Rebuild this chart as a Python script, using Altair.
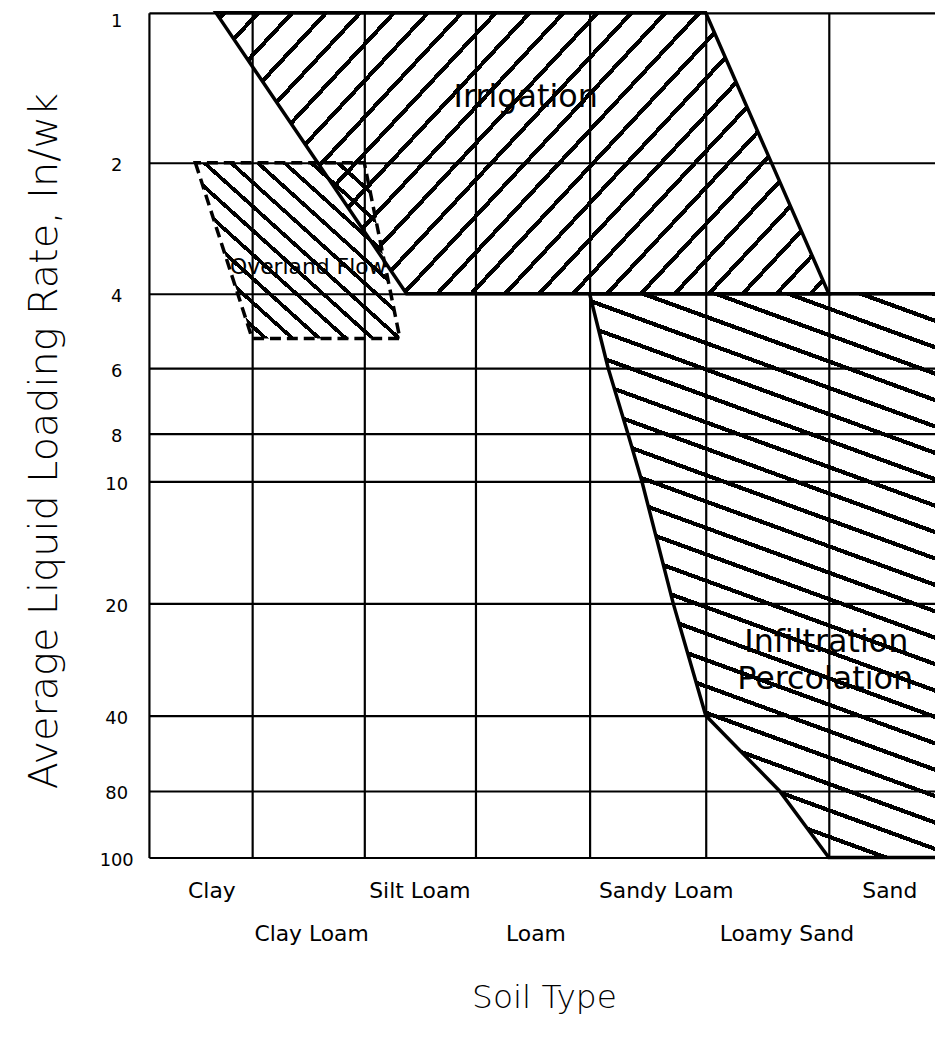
import altair as alt
import numpy as np
import pandas as pd

# ---------------- data ----------------
soil_types = ["Clay", "Clay Loam", "Silt Loam", "Loam", "Sandy Loam", "Loamy Sand", "Sand"]
soil_label_pos = [0.61, 1.53, 2.5, 3.53, 4.66, 5.66, 6.5]
rate_ticks = [1, 2, 4, 6, 8, 10, 20, 40, 80, 100]

# soil position: 0 = left edge of the Clay column, 1 = Clay / Clay Loam boundary, ...
irr_rate = [1, 4]
irr_left = [0.65, 2.38]
irr_right = [5.0, 6.0]

ovl_rate = [2, 5.2]
ovl_left = [0.45, 1.0]
ovl_right = [2.0, 2.32]

inf_rate = [4, 6, 8, 10, 20, 40, 80, 100]
inf_left = [4.0, 4.16, 4.33, 4.45, 4.72, 5.0, 5.6, 6.0]
inf_right = [7, 7, 7, 7, 7, 7, 7, 7]

big_label_text = ["Irrigation", "Infiltration", "Percolation"]
big_label_pos = [3.44, 5.98, 5.97]
big_label_rate = [1.56, 26.9, 33.5]

small_label_text = ["Overland Flow"]
small_label_pos = [1.5]
small_label_rate = [3.6]

# ---------------- layout ----------------
W_PLOT, H_PLOT = 792, 851
X_DOMAIN = [0, 1, 2, 3, 4, 5, 6, 7]
X_RANGE = [0, 104, 217, 329, 444, 561, 685, 808]
Y_RANGE = [0, 151, 283, 358, 424, 472, 595, 708, 784, 851]

INK = "black"
CLEAR = "rgba(0,0,0,0)"
FONT = "DejaVu Sans"

xscale = alt.Scale(domain=X_DOMAIN, range=X_RANGE, zero=False, nice=False)
yscale = alt.Scale(domain=rate_ticks, range=Y_RANGE, zero=False, nice=False)


def px_x(v):
    return np.interp(v, X_DOMAIN, X_RANGE)


def px_y(v):
    return np.interp(v, rate_ticks, Y_RANGE)


def hatch_fill(xs, ys, angle, spacing, width, phase=4.0):
    """Striped linear gradient giving hatch lines at `angle` degrees (pixel space)."""
    X = px_x(np.asarray(xs, float))
    Y = px_y(np.asarray(ys, float))
    W = float(X.max() - X.min())
    H = float(Y.max() - Y.min())
    a = np.radians(angle)
    sa, ca = np.sin(a), np.cos(a)
    corners = [(0, 0), (1, 0), (0, 1), (1, 1)]
    svals = [W * ux * sa + H * uy * ca for ux, uy in corners]
    i_min = int(np.argmin(svals))
    L = max(svals) - svals[i_min]
    cx, cy = W * sa / L, H * ca / L
    n2 = cx * cx + cy * cy
    p1 = corners[i_min]
    p2 = (p1[0] + cx / n2, p1[1] + cy / n2)
    stops = [alt.GradientStop(color=CLEAR, offset=0)]
    t = phase / L
    while t < 1:
        e = min(t + width / L, 1.0)
        stops += [
            alt.GradientStop(color=CLEAR, offset=round(t, 5)),
            alt.GradientStop(color=INK, offset=round(t, 5)),
            alt.GradientStop(color=INK, offset=round(e, 5)),
            alt.GradientStop(color=CLEAR, offset=round(e, 5)),
        ]
        t += spacing / L
    return alt.LinearGradient(
        gradient="linear", stops=stops,
        x1=float(p1[0]), y1=float(p1[1]), x2=float(p2[0]), y2=float(p2[1]),
    )


xaxis = alt.Axis(
    values=X_DOMAIN, grid=True, gridColor=INK, gridWidth=2.2, gridOpacity=1,
    labels=False, ticks=False, domain=False,
    title="Soil Type", titleFont=FONT, titleFontSize=33, titleFontWeight=200,
    titleColor=INK, titleX=398, titleY=141, titleAlign="center", titleBaseline="middle",
    zindex=1,
)
yaxis = alt.Axis(
    values=rate_ticks, grid=True, gridColor=INK, gridWidth=2.2, gridOpacity=1,
    domain=False, ticks=False, tickSize=0, format="d",
    labelFont=FONT, labelFontSize=18, labelColor=INK, labelAlign="center",
    labelBaseline="middle", labelPadding=33,
    labelOffset={"condition": {"test": "datum.value == 1", "value": 9}, "value": 3},
    title="Average Liquid Loading Rate, In/wk", titleFont=FONT, titleFontSize=40,
    titleFontWeight=200, titleColor=INK, titleX=-105, titleY=431,
    titleAlign="center", titleBaseline="middle",
    zindex=1,
)


def region(rates, left, right, fill, dash=None):
    df = pd.DataFrame({"rate": rates, "left": left, "right": right})
    kw = dict(orient="horizontal", fill=fill, stroke=INK, strokeWidth=3.5, opacity=1)
    if dash:
        kw["strokeDash"] = dash
    return alt.Chart(df).mark_area(**kw).encode(
        y=alt.Y("rate:Q", scale=yscale, axis=yaxis),
        x=alt.X("left:Q", scale=xscale, axis=xaxis),
        x2="right:Q",
    )


irrigation = region(irr_rate, irr_left, irr_right,
                    hatch_fill(irr_left + irr_right, irr_rate, 47, 25, 4.2))
overland = region(ovl_rate, ovl_left, ovl_right,
                  hatch_fill(ovl_left + ovl_right, ovl_rate, -42, 18, 3.8), dash=[11, 6])
infiltration = region(inf_rate, inf_left, inf_right,
                      hatch_fill(inf_left + inf_right, inf_rate, -20, 25, 4.2))

soil_df = pd.DataFrame({
    "soil": soil_types,
    "pos": soil_label_pos,
    "row": [i % 2 for i in range(len(soil_types))],
})


def soil_labels(row, ypix):
    return alt.Chart(soil_df).transform_filter(alt.datum.row == row).mark_text(
        font=FONT, fontSize=22, color=INK, baseline="middle"
    ).encode(
        x=alt.X("pos:Q", scale=xscale, axis=xaxis),
        y=alt.value(ypix),
        text="soil:N",
    )


big_df = pd.DataFrame({"t": big_label_text, "pos": big_label_pos, "rate": big_label_rate})
small_df = pd.DataFrame({"t": small_label_text, "pos": small_label_pos, "rate": small_label_rate})

big_text = alt.Chart(big_df).mark_text(
    font=FONT, fontSize=32, fontWeight="normal", color=INK, baseline="middle"
).encode(
    x=alt.X("pos:Q", scale=xscale, axis=xaxis),
    y=alt.Y("rate:Q", scale=yscale, axis=yaxis),
    text="t:N",
)
small_text = alt.Chart(small_df).mark_text(
    font=FONT, fontSize=22, fontWeight="normal", color=INK, baseline="middle"
).encode(
    x=alt.X("pos:Q", scale=xscale, axis=xaxis),
    y=alt.Y("rate:Q", scale=yscale, axis=yaxis),
    text="t:N",
)

chart = alt.layer(
    irrigation, overland, infiltration,
    soil_labels(0, 885), soil_labels(1, 928),
    big_text, small_text,
).properties(
    width=W_PLOT, height=H_PLOT,
    autosize=alt.AutoSizeParams(type="none"),
    padding={"left": 142, "top": 1, "right": 0, "bottom": 180},
    background="white",
).configure_view(stroke=None)

chart.save("out.html", embed_options={"renderer": "svg", "actions": False})
